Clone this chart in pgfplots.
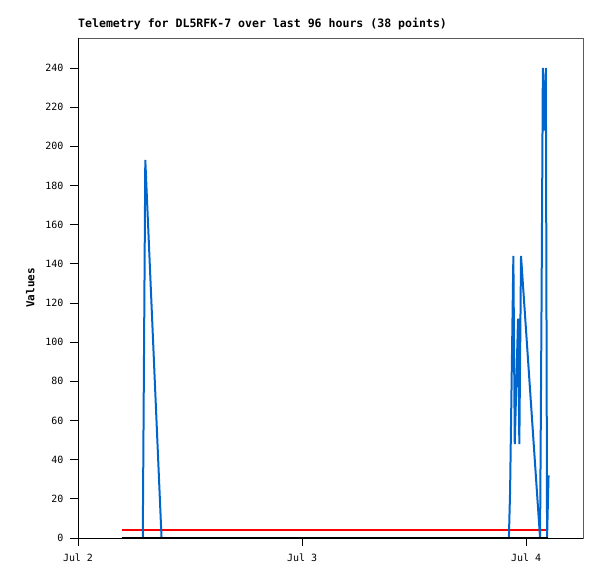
\documentclass[border=0pt]{standalone}
\usepackage{pgfplots}
\pgfplotsset{compat=1.18}
\usepackage{fontspec}
\setmainfont{DejaVu Sans Mono}

\definecolor{telblue}{RGB}{0,102,204}
\definecolor{boxgray}{RGB}{90,90,90}

\begin{document}
\begin{tikzpicture}
\begin{axis}[
    at={(0,0)}, anchor=south west,
    scale only axis,
    width=505bp, height=500bp,
    xmin=0, xmax=54.1,
    ymin=0, ymax=255.3,
    xtick={0,24,48},
    xticklabels={Jul 2,Jul 3,Jul 4},
    ytick={0,20,...,240},
    xtick pos=bottom, ytick pos=left,
    tick align=outside,
    major tick length=8bp,
    tick style={black, line width=0.8bp},
    axis line style={draw=boxgray, line width=0.8bp},
    ticklabel style={font=\fontsize{10}{11}\selectfont},
    /pgf/number format/assume math mode=true,
    yticklabel style={xshift=-3bp},
    xticklabel style={yshift=-4bp},
    ylabel={\bfseries Values},
    ylabel style={font=\fontsize{11}{12}\selectfont, yshift=4bp},
    title={\bfseries Telemetry for DL5RFK-7 over last 96 hours (38 points)},
    title style={font=\fontsize{11.6}{12}\selectfont, at={(rel axis cs:0,1)}, anchor=base west, inner sep=0pt, yshift=5bp},
    clip=true,
]
% threshold line
\addplot[red, line width=2bp] coordinates {(4.71,4) (50.36,4)};
% telemetry values
\addplot[telblue, line width=2bp, line join=miter] coordinates {
    (4.71,0) (6.94,0) (7.21,193) (8.95,0)
    (46.16,0) (46.29,24) (46.64,144) (46.79,48) (47.14,112) (47.28,48)
    (47.46,144) (49.50,0) (49.66,120) (49.80,240) (50.01,208) (50.12,240)
    (50.25,0) (50.41,32)
};
% zero line
\addplot[black, line width=2.5bp] coordinates {(4.71,0) (50.36,0)};
\draw[black, line width=0.8bp] (rel axis cs:0,0) -- (rel axis cs:0,1);
\draw[black, line width=0.8bp] (rel axis cs:0,0) -- (rel axis cs:1,0);
\end{axis}
\pgfresetboundingbox
\path[use as bounding box] (-78bp,-41bp) rectangle (519bp,538bp);
\end{tikzpicture}
\end{document}
